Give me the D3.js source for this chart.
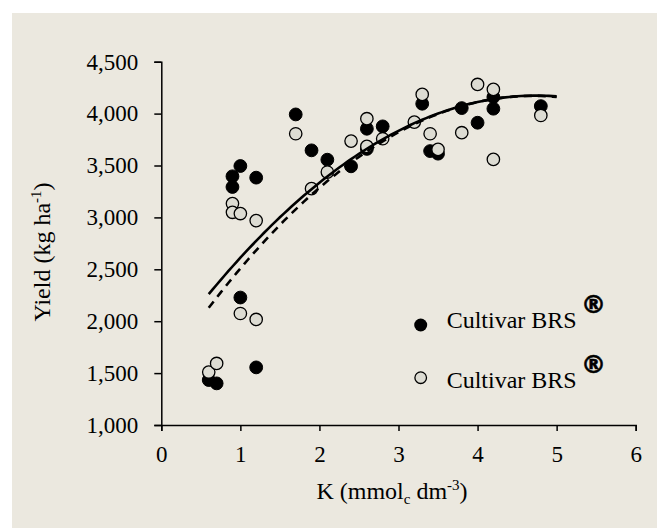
<!DOCTYPE html>
<html>
<head>
<meta charset="utf-8">
<script src="https://cdn.jsdelivr.net/npm/d3@7"></script>
<style>
  html, body { margin: 0; padding: 0; background: #ffffff; }
  svg { display: block; }
  text { font-family: "Liberation Serif", "Times New Roman", serif; fill: #000; }
</style>
</head>
<body>
<svg id="chart" width="657" height="528"></svg>
<script>
// ---- data ----
const filledX = [0.6,0.7,0.9,0.9,1.0,1.0,1.2,1.2,1.7,1.9,2.1,2.4,2.6,2.6,2.8,3.3,3.4,3.5,3.8,4.0,4.2,4.2,4.8];
const filledY = [1433,1401,3396,3293,3495,2228,3383,1555,3992,3646,3556,3492,3854,3660,3877,4095,3639,3614,4053,3912,4159,4047,4072];
const openX   = [0.6,0.7,0.9,0.9,1.0,1.0,1.2,1.2,1.7,1.9,2.1,2.4,2.6,2.6,2.8,3.2,3.3,3.4,3.5,3.8,4.0,4.2,4.2,4.8];
const openY   = [1510,1593,3133,3049,3037,2074,2969,2017,3806,3277,3437,3735,3951,3684,3758,3918,4185,3806,3655,3816,4281,4233,3559,3982];
// quadratic trend coefficients [a, b, c] : y = a + b*x + c*x^2, fitted over x in [0.6, 5]
const solidCoef  = [1666, 1057, -111.4];
const dashedCoef = [1487.5, 1142, -121.5];
const trendRange = [0.6, 5];
const xTicks = [0,1,2,3,4,5,6];
const yTicks = [1000,1500,2000,2500,3000,3500,4000,4500];
const legendLabels = ["Cultivar BRS", "Cultivar BRS"];

const svg = d3.select("#chart");
svg.append("rect").attr("x", 12).attr("y", 13).attr("width", 657 - 12).attr("height", 528 - 13).attr("fill", "#EBE8DF");

const x = d3.scaleLinear().domain([0, 6]).range([161.3, 635.7]);
const y = d3.scaleLinear().domain([1000, 4500]).range([425, 61.7]);

// axes
const xAxis = d3.axisBottom(x).tickValues(xTicks).tickFormat(d3.format("d")).tickSizeOuter(0).tickSize(6).tickPadding(14.5);
const yAxis = d3.axisLeft(y).tickValues(yTicks).tickFormat(d3.format(",")).tickSizeOuter(0).tickSize(7).tickPadding(16);

const gx = svg.append("g").attr("transform", `translate(0,${y(1000)})`).call(xAxis);
const gy = svg.append("g").attr("transform", `translate(${x(0)},0)`).call(yAxis);
[gx, gy].forEach(g => {
  g.selectAll("path.domain").attr("stroke", "#000").attr("stroke-width", 1.5);
  g.selectAll(".tick line").attr("stroke", "#000").attr("stroke-width", 1.5);
  g.selectAll(".tick text").attr("font-family", "Liberation Serif").attr("font-size", 23).attr("fill", "#000");
});

// markers: filled first, then open on top
svg.append("g").selectAll("circle").data(filledX.map((d, i) => [d, filledY[i]])).join("circle")
  .attr("cx", d => x(d[0])).attr("cy", d => y(d[1])).attr("r", 6.4)
  .attr("fill", "#000").attr("stroke", "#000").attr("stroke-width", 1);
svg.append("g").selectAll("circle").data(openX.map((d, i) => [d, openY[i]])).join("circle")
  .attr("cx", d => x(d[0])).attr("cy", d => y(d[1])).attr("r", 6.2)
  .attr("fill", "#DDDCD3").attr("stroke", "#000").attr("stroke-width", 1.3);

// trend lines
const xs = d3.range(trendRange[0], trendRange[1] + 1e-9, 0.05);
const quad = c => v => c[0] + c[1] * v + c[2] * v * v;
const line = d3.line().x(d => x(d[0])).y(d => y(d[1]));
svg.append("path").datum(xs.map(v => [v, quad(solidCoef)(v)])).attr("d", line)
  .attr("fill", "none").attr("stroke", "#000").attr("stroke-width", 2.6);
svg.append("path").datum(xs.map(v => [v, quad(dashedCoef)(v)])).attr("d", line)
  .attr("fill", "none").attr("stroke", "#000").attr("stroke-width", 2.6).attr("stroke-dasharray", "8,6");

// axis titles
const xt = svg.append("text").attr("x", 392).attr("y", 499).attr("text-anchor", "middle").attr("font-size", 24);
xt.append("tspan").text("K (mmol");
xt.append("tspan").attr("font-size", 15).attr("dy", 5).text("c");
xt.append("tspan").attr("dy", -5).text(" dm");
xt.append("tspan").attr("font-size", 15).attr("dy", -9).text("-3");
xt.append("tspan").attr("dy", 9).text(")");

const yt = svg.append("text").attr("transform", "translate(50,252) rotate(-90)").attr("text-anchor", "middle").attr("font-size", 24);
yt.append("tspan").text("Yield (kg ha");
yt.append("tspan").attr("font-size", 15).attr("dy", -9).text("-1");
yt.append("tspan").attr("dy", 9).text(")");

// legend
const legendMarkerY = [325, 377.7];
const legendTextY = [328.3, 388.3];
legendLabels.forEach((lab, i) => {
  const c = svg.append("circle").attr("cx", 420.7).attr("cy", legendMarkerY[i]);
  if (i === 0) c.attr("r", 6.5).attr("fill", "#000");
  else c.attr("r", 5.8).attr("fill", "#DDDCD3").attr("stroke", "#000").attr("stroke-width", 1.3);
  const t = svg.append("text").attr("x", 446.7).attr("y", legendTextY[i]).attr("font-size", 24);
  t.append("tspan").text(lab);
  svg.append("text").attr("x", 581).attr("y", legendTextY[i] - 15)
    .attr("font-weight", "bold").attr("font-size", 25)
    .style("font-family", "'DejaVu Sans', 'Liberation Sans', Arial, sans-serif")
    .attr("stroke", "#000").attr("stroke-width", 0.6).text("®");
});
</script>
</body>
</html>
